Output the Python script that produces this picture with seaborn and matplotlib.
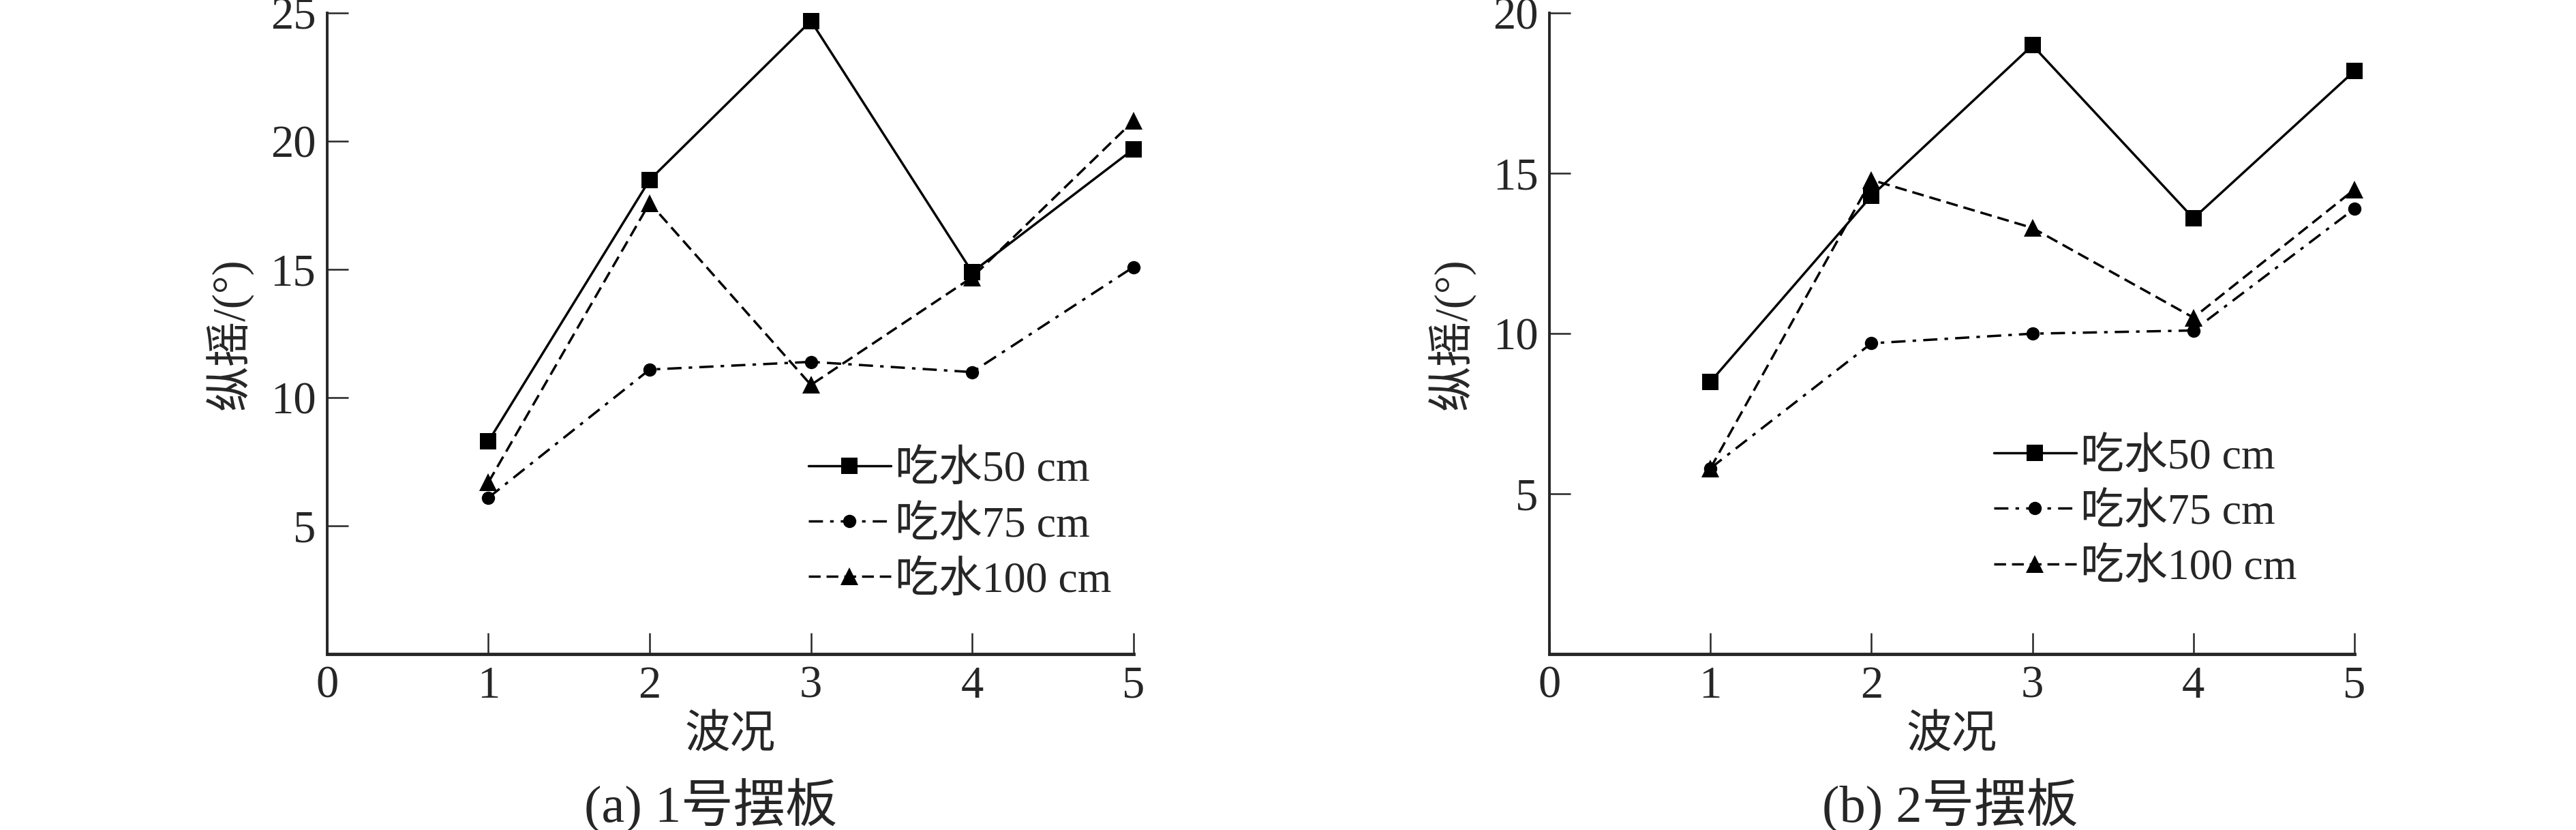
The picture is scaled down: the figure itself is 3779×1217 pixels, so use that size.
import numpy as np
import pandas as pd
import seaborn as sns
from matplotlib import pyplot as plt

# wave condition on x, pitch angle on y
waves = [1, 2, 3, 4, 5]
series_names = ["吃水50 cm", "吃水75 cm", "吃水100 cm"]

# panel (a) 1号摆板
pitch_a_50 = [8.3, 18.5, 24.7, 14.9, 19.7]
pitch_a_75 = [6.1, 11.1, 11.4, 11.0, 15.1]
pitch_a_100 = [6.7, 17.6, 10.5, 14.7, 20.8]

# panel (b) 2号摆板
pitch_b_50 = [8.5, 14.3, 19.0, 13.6, 18.2]
pitch_b_75 = [5.8, 9.7, 10.0, 10.1, 13.9]
pitch_b_100 = [5.8, 14.8, 13.3, 10.5, 14.5]

x_ticks = [0, 1, 2, 3, 4, 5]
y_ticks_a = [5, 10, 15, 20, 25]
y_ticks_b = [5, 10, 15, 20]

sns.set_style("ticks")
plt.rcParams['font.family'] = ['Liberation Serif', 'Noto Sans CJK SC']
plt.rcParams['axes.unicode_minus'] = False

FS = 48
styles = [
    dict(marker='s', linestyle='-', markersize=17),
    dict(marker='o', linestyle=(0, (6, 3, 1.5, 3)), markersize=14),
    dict(marker='^', linestyle=(0, (5, 2.5)), markersize=19),
]

fig = plt.figure(figsize=(37.79, 12.17), dpi=100)
ax_a = fig.add_axes([0.127, 0.212, 0.313, 0.772])
ax_b = fig.add_axes([0.6015, 0.212, 0.3125, 0.772])


def draw_panel(ax, data, ymax, yticks, legend_anchor):
    for name, vals, st in zip(series_names, data, styles):
        df = pd.DataFrame({"wave": waves, "pitch": vals})
        sns.lineplot(data=df, x="wave", y="pitch", ax=ax, color='black',
                     linewidth=2.5, label=name, clip_on=False,
                     markeredgewidth=0, **st)
    ax.set_xlim(0, 5)
    ax.set_ylim(0, ymax)
    ax.set_xticks(x_ticks)
    ax.set_yticks(yticks)
    ax.tick_params(direction='in', length=22, width=1.8, labelsize=FS, pad=12)
    for side in ['top', 'right']:
        ax.spines[side].set_visible(False)
    ax.spines['left'].set_linewidth(2.8)
    ax.spines['bottom'].set_linewidth(3.5)
    ax.set_xlabel("波况", fontsize=FS, labelpad=8)
    ax.set_ylabel("纵摇/(°)", fontsize=FS, labelpad=18)
    ax.legend(loc='upper left', bbox_to_anchor=legend_anchor, frameon=False,
              fontsize=46, handlelength=1.9, handletextpad=0.1,
              labelspacing=0.35, borderaxespad=0)


draw_panel(ax_a, [pitch_a_50, pitch_a_75, pitch_a_100], 25, y_ticks_a, (0.575, 0.345))
draw_panel(ax_b, [pitch_b_50, pitch_b_75, pitch_b_100], 20, y_ticks_b, (0.53, 0.365))

fig.text(0.276, 0.03, "(a) 1号摆板", fontsize=55, ha='center', va='center')
fig.text(0.757, 0.03, "(b) 2号摆板", fontsize=55, ha='center', va='center')

fig.savefig("out.png", dpi=100)
